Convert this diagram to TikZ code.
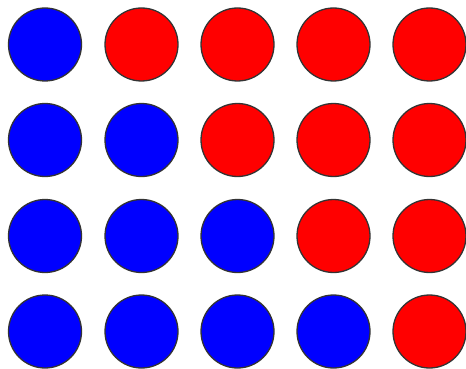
\documentclass[tikz,border=0pt]{standalone}
\begin{document}
\begin{tikzpicture}[x=1pt,y=-1pt,
  dot/.style={circle,draw=black!80,line width=1.3pt,minimum size=73pt,inner sep=0pt},
  bl/.style={dot,fill=blue},
  rd/.style={dot,fill=red}]
\useasboundingbox[fill=white] (0,0) rectangle (466,369);
\foreach \r/\y in {1/44.5,2/140,3/236,4/331.5}{
  \foreach \c/\x in {1/45,2/141.5,3/237.5,4/333.5,5/429.5}{
    \ifnum\c>\r
      \node[rd] (c\r\c) at (\x,\y) {};
    \else
      \node[bl] (c\r\c) at (\x,\y) {};
    \fi
  }
}
\end{tikzpicture}
\end{document}
